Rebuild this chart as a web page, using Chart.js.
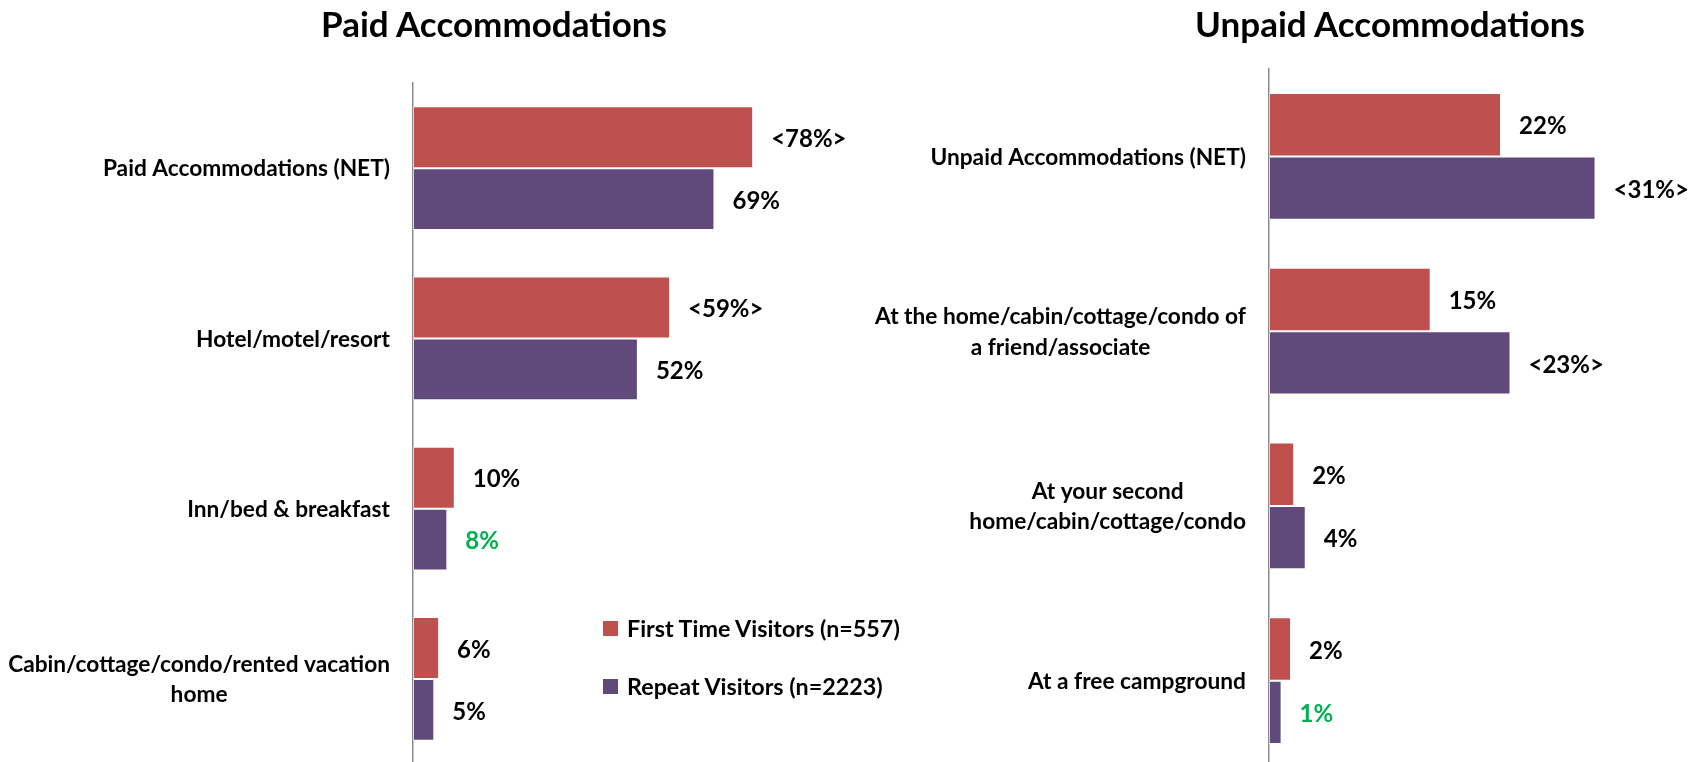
<!DOCTYPE html>
<html>
<head>
<meta charset="utf-8">
<script src="https://cdn.jsdelivr.net/npm/chart.js@4.4.1/dist/chart.umd.min.js"></script>
<style>
  html, body { margin: 0; padding: 0; background: #fff; overflow: hidden; width: 1702px; height: 762px; }
  #wrap { position: relative; width: 1702px; height: 762px; overflow: hidden; }
  canvas { position: absolute; top: 0; }
  .title { position: absolute; font-family: Lato, "Noto Sans", sans-serif; font-weight: 700; font-size: 35px; color: #000; transform: translate(-50%, -50%); white-space: nowrap; }
  .legend { position: absolute; font-family: Lato, "Noto Sans", sans-serif; font-weight: 700; font-size: 23.3px; color: #000; white-space: nowrap; }
  .legend .row { position: absolute; left: 0; display: flex; align-items: center; transform: translateY(-50%); }
  .legend .sw { width: 15px; height: 15px; margin-right: 9px; }
</style>
</head>
<body>
<div id="wrap">
  <canvas id="paid" width="850" height="770" style="left:0px"></canvas>
  <canvas id="unpaid" width="852" height="775" style="left:850px"></canvas>
  <div class="title" id="t1" style="left:494px; top:23px"></div>
  <div class="title" id="t2" style="left:1390px; top:23px"></div>
  <div class="legend" id="legend" style="left:603px; top:0px"></div>
</div>
<script>
// ---- Data ----
const chartTitles = ['Paid Accommodations', 'Unpaid Accommodations'];
const seriesNames = ['First Time Visitors (n=557)', 'Repeat Visitors (n=2223)'];

const paidCategories = [
  'Paid Accommodations (NET)',
  'Hotel/motel/resort',
  'Inn/bed & breakfast',
  ['Cabin/cottage/condo/rented vacation', 'home']
];
const paidFirst = [78.2, 59.1, 9.6, 6.0];
const paidRepeat = [69.3, 51.7, 7.9, 4.9];
const paidFirstSig = ['high', 'high', '', ''];
const paidRepeatSig = ['', '', 'low', ''];

const unpaidCategories = [
  'Unpaid Accommodations (NET)',
  ['At the home/cabin/cottage/condo of', 'a friend/associate'],
  ['At your second', 'home/cabin/cottage/condo'],
  'At a free campground'
];
const unpaidFirst = [22.1, 15.4, 2.4, 2.1];
const unpaidRepeat = [31.1, 23.0, 3.5, 1.2];
const unpaidFirstSig = ['', '', '', ''];
const unpaidRepeatSig = ['high', 'high', '', 'low'];

// ---- Styles ----
const RED = '#C0504D';
const PURPLE = '#604A7B';
const GREEN = '#00B050';
const FONT = 'Lato, "Noto Sans", sans-serif';
const VALUE_SIZE = 24;
const CAT_SIZE = 22.7;

document.getElementById('t1').textContent = chartTitles[0];
document.getElementById('t2').textContent = chartTitles[1];
const legendEl = document.getElementById('legend');
[[seriesNames[0], RED, 628], [seriesNames[1], PURPLE, 686]].forEach(([name, col, y]) => {
  const row = document.createElement('div');
  row.className = 'row';
  row.style.top = y + 'px';
  const sw = document.createElement('div');
  sw.className = 'sw';
  sw.style.background = col;
  const tx = document.createElement('span');
  tx.textContent = name;
  row.appendChild(sw); row.appendChild(tx);
  legendEl.appendChild(row);
});

function labelText(v, sig) {
  const r = Math.round(v) + '%';
  return sig === 'high' ? '<' + r + '>' : r;
}

const valueLabels = {
  id: 'valueLabels',
  afterDatasetsDraw(chart, args, opts) {
    const ctx = chart.ctx;
    ctx.save();
    ctx.font = 'bold ' + VALUE_SIZE + 'px ' + FONT;
    ctx.textBaseline = 'middle';
    ctx.textAlign = 'left';
    chart.data.datasets.forEach((ds, di) => {
      const meta = chart.getDatasetMeta(di);
      meta.data.forEach((el, i) => {
        const sig = ds.sig[i];
        ctx.fillStyle = sig === 'low' ? GREEN : '#000';
        ctx.fillText(labelText(ds.data[i], sig), el.x + opts.gap, el.y + 2);
      });
    });
    ctx.restore();
  }
};

const catLabels = {
  id: 'catLabels',
  afterDraw(chart, args, opts) {
    const ctx = chart.ctx;
    const ys = chart.scales.y;
    ctx.save();
    ctx.font = 'bold ' + CAT_SIZE + 'px ' + FONT;
    ctx.textBaseline = 'middle';
    ctx.textAlign = 'center';
    ctx.fillStyle = '#000';
    const right = chart.chartArea.left - opts.gap;
    chart.data.labels.forEach((lab, i) => {
      const lines = Array.isArray(lab) ? lab : [lab];
      const maxW = Math.max(...lines.map(l => ctx.measureText(l).width));
      const cx = right - maxW / 2;
      const cy = ys.getPixelForValue(i);
      const lh = 30.4;
      lines.forEach((l, j) => {
        ctx.fillText(l, cx, cy + (j - (lines.length - 1) / 2) * lh + 1);
      });
    });
    ctx.restore();
  }
};

function makeChart(id, cats, first, repeat, firstSig, repeatSig, xMax, pad) {
  return new Chart(document.getElementById(id), {
    type: 'bar',
    data: {
      labels: cats,
      datasets: [
        { label: seriesNames[0], data: first, sig: firstSig, backgroundColor: RED, borderColor: 'rgba(255,255,255,0.35)', borderWidth: 1, borderSkipped: false },
        { label: seriesNames[1], data: repeat, sig: repeatSig, backgroundColor: PURPLE, borderColor: 'rgba(255,255,255,0.35)', borderWidth: 1, borderSkipped: false }
      ]
    },
    options: {
      indexAxis: 'y',
      responsive: false,
      animation: false,
      devicePixelRatio: 1,
      layout: { padding: pad },
      datasets: { bar: { categoryPercentage: 0.726, barPercentage: 1.0 } },
      scales: {
        x: { display: false, min: 0, max: xMax },
        y: {
          display: true,
          offset: true,
          grid: { display: false },
          ticks: { display: false },
          border: { display: true, color: '#8a8a8a', width: 1.5 },
          afterFit(s) { s.width = 0; }
        }
      },
      plugins: {
        legend: { display: false },
        tooltip: { enabled: false },
        title: { display: false },
        valueLabels: { gap: 18 },
        catLabels: { gap: 23 }
      }
    },
    plugins: [valueLabels, catLabels]
  });
}

makeChart('paid', paidCategories, paidFirst, paidRepeat, paidFirstSig, paidRepeatSig, 100,
  { left: 413, right: 2, top: 83, bottom: 6 });
makeChart('unpaid', unpaidCategories, unpaidFirst, unpaidRepeat, unpaidFirstSig, unpaidRepeatSig, 40,
  { left: 419, right: 13, top: 69, bottom: 7 });
</script>
</body>
</html>
